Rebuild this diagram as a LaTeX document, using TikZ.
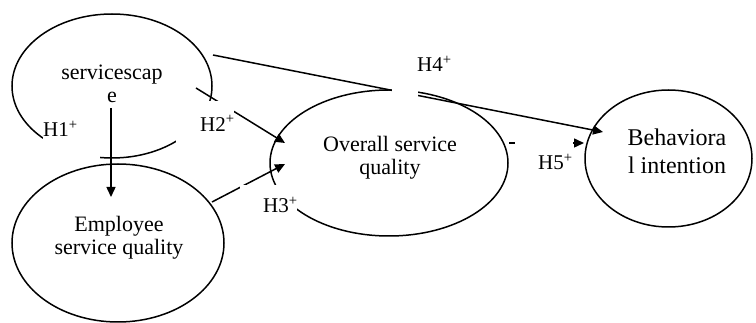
\documentclass[tikz,border=0pt]{standalone}
\usepackage{fontspec}
\setmainfont{Liberation Serif}
\usetikzlibrary{shapes.geometric,arrows.meta}
\begin{document}
\begin{tikzpicture}[x=1pt,y=-1pt,
  ell/.style={ellipse,draw,line width=1.5pt,inner sep=0pt},
  txt/.style={align=center,inner sep=0pt,font=\fontsize{22}{23}\selectfont},
  hyp/.style={anchor=base west,inner sep=0pt,font=\fontsize{21}{24}\selectfont},
  con/.style={line width=1.5pt},
  arr/.style={con,-{Triangle[length=10pt,width=9pt]}},
  mask/.style={fill=white,draw=none}]
\useasboundingbox (0,0) rectangle (756,323);
\fill[white] (0,0) rectangle (756,323);
% ellipses
\node[ell,minimum width=200pt,minimum height=144pt] (serv) at (112,86) {};
\node[ell,minimum width=212pt,minimum height=158pt] (emp) at (118,243) {};
\node[ell,minimum width=238pt,minimum height=146pt] (ovr) at (389,163) {};
\node[ell,minimum width=167pt,minimum height=137pt] (beh) at (668.5,158.5) {};
% connector ends
\coordinate (h1s) at (111,108);
\coordinate (h1e) at (111,197);
\coordinate (h2s) at (196,88);
\coordinate (h2e) at (285,143);
\coordinate (h3s) at (212,202);
\coordinate (h3e) at (285,164);
\coordinate (h4s) at (213,55);
\coordinate (h4e) at (603,132);
\coordinate (h5s) at (509,143);
\coordinate (h5e) at (584,143);
% connectors
\draw[arr] (h1s) -- (h1e);
\draw[arr] (h2s) -- (h2e);
\draw[arr] (h3s) -- (h3e);
\draw[arr] (h4s) -- (h4e);
\draw[arr] (h5s) -- (h5e);
% label boxes (white, hiding what lies behind them)
\path[mask] (43,120) rectangle (100,160);
\path[mask] (176,101) rectangle (234,146);
\path[mask] (240,185.5) rectangle (297,215);
\path[mask] (392,80) rectangle (418,100);
\path[mask] (515,132) rectangle (573,176);
% texts
\node[txt] (servt) at (112,83.5) {servicescap\\e};
\node[txt] (empt) at (119,238.2) {Employee\\service quality};
\node[txt] (ovrt) at (390,158.2) {Overall service\\quality};
\node[txt,font=\fontsize{24}{28}\selectfont] (beht) at (677,151) {Behaviora\\l intention};
\node[hyp] (l1) at (43,137) {H1\textsuperscript{+}};
\node[hyp] (l2) at (200,131.5) {H2\textsuperscript{+}};
\node[hyp] (l3) at (263,213) {H3\textsuperscript{+}};
\node[hyp] (l4) at (417,71.7) {H4\textsuperscript{+}};
\node[hyp] (l5) at (538,170) {H5\textsuperscript{+}};
\end{tikzpicture}
\end{document}
